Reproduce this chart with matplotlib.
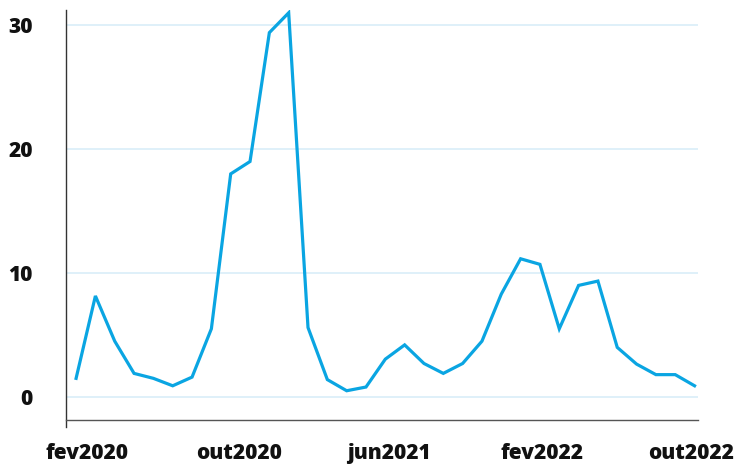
import matplotlib
matplotlib.use("Agg")
import matplotlib.pyplot as plt
import matplotlib.transforms as mtransforms
import numpy as np

# monthly values, fev2020 .. out2022
months = ["fev2020", "mar2020", "abr2020", "mai2020", "jun2020", "jul2020", "ago2020",
          "set2020", "out2020", "nov2020", "dez2020", "jan2021", "fev2021", "mar2021",
          "abr2021", "mai2021", "jun2021", "jul2021", "ago2021", "set2021", "out2021",
          "nov2021", "dez2021", "jan2022", "fev2022", "mar2022", "abr2022", "mai2022",
          "jun2022", "jul2022", "ago2022", "set2022", "out2022"]
values = [1.5, 8.15, 4.5, 1.9, 1.5, 0.9, 1.6, 5.5, 18.0, 19.0, 29.4, 31.0, 5.6, 1.4,
          0.5, 0.8, 3.05, 4.2, 2.7, 1.9, 2.7, 4.5, 8.3, 11.15, 10.7, 5.5, 9.0, 9.35,
          4.0, 2.65, 1.8, 1.8, 0.9]
shown_labels = ["fev2020", "out2020", "jun2021", "fev2022", "out2022"]
y_ticks = [0, 10, 20, 30]

plt.rcParams['font.family'] = ['Open Sans', 'DejaVu Sans']

fig = plt.figure(figsize=(7.37, 4.65), dpi=100)
ax = fig.add_axes([0.0896, 0.0968, 0.857, 0.881])

x = np.arange(len(months))
ax.plot(x, values, color="#0aa5e2", linewidth=2.3, solid_joinstyle="miter", zorder=3)

ax.set_xlim(-0.52, len(months) - 1 + 0.16)
ax.set_ylim(-1.86, 31.2)

tick_pos = [months.index(m) for m in shown_labels]
ax.set_xticks(tick_pos)
ax.set_xticklabels(shown_labels, fontsize=15, fontweight=800, color="#111111")
ax.set_yticks(y_ticks)
ax.set_yticklabels([str(v) for v in y_ticks], fontsize=15, fontweight=800, color="#111111")
ax.tick_params(axis="x", length=0, pad=16.5)
ax.tick_params(axis="y", length=0, pad=24)

# labels in the original sit evenly spaced, slightly off the month points
nudge_px = [11, 8, 3.5, 2, -3]
for lbl, dx in zip(ax.get_xticklabels(), nudge_px):
    lbl.set_transform(lbl.get_transform() +
                      mtransforms.ScaledTranslation(dx / 100, 0, fig.dpi_scale_trans))

ax.grid(axis="y", color="#dff0f9", linewidth=1.4, zorder=0)
ax.grid(axis="x", visible=False)

ax.spines["top"].set_visible(False)
ax.spines["right"].set_visible(False)
ax.spines["left"].set_color("#333333")
ax.spines["bottom"].set_color("#555555")
ax.spines["left"].set_linewidth(1.0)
ax.spines["bottom"].set_linewidth(1.0)
ax.spines["left"].set_bounds(-2.42, 31.2)

fig.savefig("out.png", dpi=100)
